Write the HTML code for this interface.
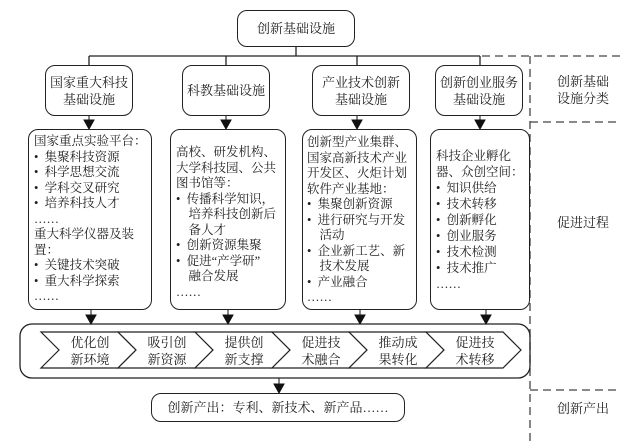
<!DOCTYPE html>
<html><head><meta charset="utf-8"><style>
body{margin:0;width:638px;height:444px;background:#fff;position:relative;overflow:hidden;font-family:"Liberation Serif","Noto Serif CJK SC","Noto Sans CJK SC",serif;color:#222}
.b{position:absolute;border:1.3px solid #222;border-radius:10px;box-sizing:border-box;background:#fff}
.c{display:flex;align-items:center;justify-content:center;text-align:center;font-size:13px;line-height:17px}
.t{position:absolute;font-size:12.5px;line-height:15.5px;white-space:nowrap}
.l{position:absolute;font-size:13px;line-height:17px;text-align:center}
svg{position:absolute;left:0;top:0}
</style></head><body>
<svg width="638" height="444">
<g stroke="#222" stroke-width="1.3" fill="none">
<line x1="296" y1="47" x2="296" y2="56"/>
<line x1="89" y1="56" x2="480" y2="56"/>
<line x1="89" y1="56" x2="89" y2="65"/><line x1="226" y1="56" x2="226" y2="65"/>
<line x1="357" y1="56" x2="357" y2="65"/><line x1="480" y1="56" x2="480" y2="65"/>
</g>
<g stroke="#444" stroke-width="1.3" stroke-dasharray="8,5" fill="none">
<line x1="482" y1="56" x2="620" y2="56"/>
<line x1="530" y1="56" x2="530" y2="444"/>
<line x1="530" y1="122" x2="620" y2="122"/>
<line x1="530" y1="390" x2="620" y2="390"/>
</g>
<g fill="#111" stroke="#111">
<line x1="89" y1="116" x2="89" y2="120"/><polygon points="84,120 94,120 89,129"/>
<line x1="226" y1="116" x2="226" y2="120"/><polygon points="221,120 231,120 226,129"/>
<line x1="357" y1="116" x2="357" y2="120"/><polygon points="352,120 362,120 357,129"/>
<line x1="480" y1="116" x2="480" y2="120"/><polygon points="475,120 485,120 480,129"/>
<line x1="91" y1="310" x2="91" y2="315"/><polygon points="86,315 96,315 91,324"/>
<line x1="228" y1="310" x2="228" y2="315"/><polygon points="223,315 233,315 228,324"/>
<line x1="360" y1="310" x2="360" y2="315"/><polygon points="355,315 365,315 360,324"/>
<line x1="486" y1="310" x2="486" y2="315"/><polygon points="481,315 491,315 486,324"/>
<line x1="279" y1="378" x2="279" y2="384"/><polygon points="274,384 284,384 279,393"/>
</g>
<rect x="20" y="324" width="510" height="54" rx="12" fill="none" stroke="#222" stroke-width="1.3"/>
<g fill="#fff" stroke="#222" stroke-width="1.2">
<polygon points="41,332 118,332 136,350 118,368 41,368 59,350"/>
<polygon points="118,332 195,332 213,350 195,368 118,368 136,350"/>
<polygon points="195,332 272,332 290,350 272,368 195,368 213,350"/>
<polygon points="272,332 349,332 367,350 349,368 272,368 290,350"/>
<polygon points="349,332 426,332 444,350 426,368 349,368 367,350"/>
<polygon points="426,332 503,332 521,350 503,368 426,368 444,350"/>
</g>
</svg>
<div class="b c" style="left:237px;top:10px;width:118px;height:37px">创新基础设施</div>
<div class="b c" style="left:45px;top:65px;width:88px;height:51px">国家重大科技<br>基础设施</div>
<div class="b c" style="left:182px;top:65px;width:88px;height:51px">科教基础设施</div>
<div class="b c" style="left:312px;top:65px;width:98px;height:51px">产业技术创新<br>基础设施</div>
<div class="b c" style="left:435px;top:65px;width:88px;height:51px">创新创业服务<br>基础设施</div>

<div class="b" style="left:28px;top:129px;width:124px;height:181px"></div>
<div class="t" style="left:34px;top:134px">国家重点实验平台：<br>•&nbsp;&nbsp;集聚科技资源<br>•&nbsp;&nbsp;科学思想交流<br>•&nbsp;&nbsp;学科交叉研究<br>•&nbsp;&nbsp;培养科技人才<br>……<br>重大科学仪器及装<br>置：<br>•&nbsp;&nbsp;关键技术突破<br>•&nbsp;&nbsp;重大科学探索<br>……</div>

<div class="b" style="left:170px;top:129px;width:116px;height:181px"></div>
<div class="t" style="left:176px;top:145px">高校、研发机构、<br>大学科技园、公共<br>图书馆等：<br>•&nbsp;&nbsp;传播科学知识，<br>&nbsp;&nbsp;&nbsp;&nbsp;培养科技创新后<br>&nbsp;&nbsp;&nbsp;&nbsp;备人才<br>•&nbsp;&nbsp;创新资源集聚<br>•&nbsp;&nbsp;促进“产学研”<br>&nbsp;&nbsp;&nbsp;&nbsp;融合发展<br>……</div>

<div class="b" style="left:302px;top:129px;width:115px;height:181px"></div>
<div class="t" style="left:307px;top:135px">创新型产业集群、<br>国家高新技术产业<br>开发区、火炬计划<br>软件产业基地：<br>•&nbsp;&nbsp;集聚创新资源<br>•&nbsp;&nbsp;进行研究与开发<br>&nbsp;&nbsp;&nbsp;&nbsp;活动<br>•&nbsp;&nbsp;企业新工艺、新<br>&nbsp;&nbsp;&nbsp;&nbsp;技术发展<br>•&nbsp;&nbsp;产业融合<br>……</div>

<div class="b" style="left:430px;top:129px;width:100px;height:181px"></div>
<div class="t" style="left:436px;top:148px;line-height:16px">科技企业孵化<br>器、众创空间：<br>•&nbsp;&nbsp;知识供给<br>•&nbsp;&nbsp;技术转移<br>•&nbsp;&nbsp;创新孵化<br>•&nbsp;&nbsp;创业服务<br>•&nbsp;&nbsp;技术检测<br>•&nbsp;&nbsp;技术推广<br>……</div>

<div class="l" style="left:60px;top:334px;width:60px">优化创<br>新环境</div>
<div class="l" style="left:137px;top:334px;width:60px">吸引创<br>新资源</div>
<div class="l" style="left:214px;top:334px;width:60px">提供创<br>新支撑</div>
<div class="l" style="left:291px;top:334px;width:60px">促进技<br>术融合</div>
<div class="l" style="left:368px;top:334px;width:60px">推动成<br>果转化</div>
<div class="l" style="left:445px;top:334px;width:60px">促进技<br>术转移</div>

<div class="b c" style="left:151px;top:393px;width:254px;height:29px">创新产出：专利、新技术、新产品……</div>

<div class="l" style="left:548px;top:73px;width:70px">创新基础<br>设施分类</div>
<div class="l" style="left:548px;top:214px;width:70px">促进过程</div>
<div class="l" style="left:548px;top:400px;width:70px">创新产出</div>
</body></html>
